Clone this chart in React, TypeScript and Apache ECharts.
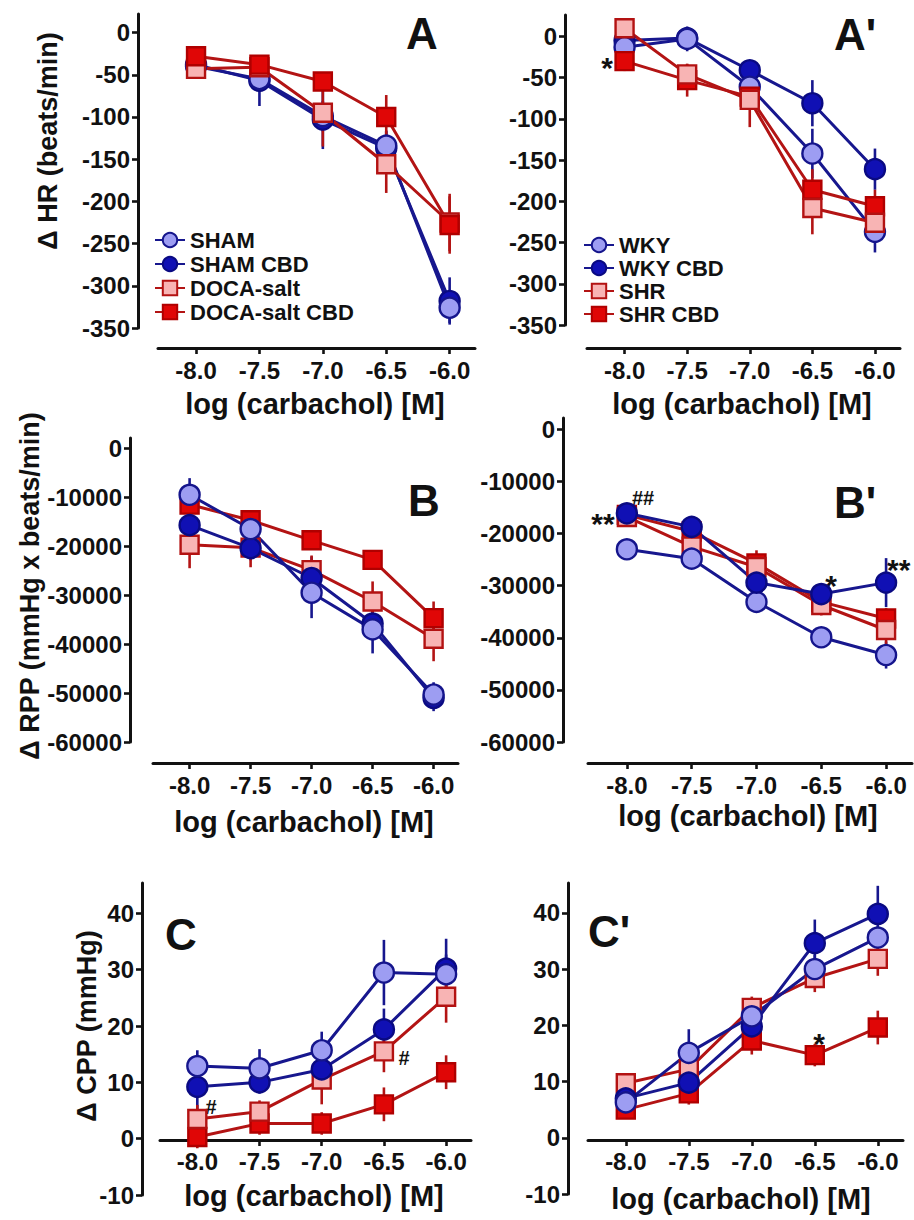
import React, { useEffect, useRef } from "react";
import * as echarts from "echarts";

const FONT = '"Liberation Sans", Arial, Helvetica, sans-serif';
const INK = "#111111";

// x positions (log carbachol [M])
const doses = [-8.0, -7.5, -7.0, -6.5, -6.0];

// y tick values
const hrTicks = [0, -50, -100, -150, -200, -250, -300, -350];
const rppTicks = [0, -10000, -20000, -30000, -40000, -50000, -60000];
const cppTicks = [-10, 0, 10, 20, 30, 40];

// Panel A: Δ HR
const hrSham = [-40, -55, -99, -134, -326];
const hrShamErr = [8, 15, 18, 18, 18];
const hrShamCbd = [-38, -57, -103, -137, -318];
const hrShamCbdErr = [10, 30, 35, 20, 28];
const hrDoca = [-43, -41, -95, -156, -225];
const hrDocaErr = [10, 12, 40, 34, 34];
const hrDocaCbd = [-28, -38, -58, -100, -228];
const hrDocaCbdErr = [10, 10, 10, 26, 34];

// Panel A': Δ HR
const hrWky = [-13, -3, -61, -142, -237];
const hrWkyErr = [8, 15, 15, 30, 25];
const hrWkyCbd = [-5, -2, -41, -81, -161];
const hrWkyCbdErr = [8, 8, 12, 28, 25];
const hrShr = [10, -46, -77, -208, -226];
const hrShrErr = [12, 12, 33, 32, 20];
const hrShrCbd = [-30, -53, -73, -186, -206];
const hrShrCbdErr = [12, 20, 10, 25, 20];

// Panel B: Δ RPP
const rppSham = [-9500, -16500, -29500, -37000, -50300];
const rppShamErr = [3400, 2000, 5200, 4900, 2500];
const rppShamCbd = [-15700, -20400, -26500, -35800, -51000];
const rppShamCbdErr = [2500, 2500, 4400, 3000, 2700];
const rppDoca = [-19700, -20300, -24900, -31300, -38900];
const rppDocaErr = [4800, 4000, 3000, 4100, 4600];
const rppDocaCbd = [-11500, -14700, -18800, -22800, -34700];
const rppDocaCbdErr = [2000, 2000, 1500, 2000, 3400];

// Panel B': Δ RPP
const rppWky = [-23000, -24800, -33100, -39900, -43300];
const rppWkyErr = [1000, 1500, 1500, 1500, 2600];
const rppWkyCbd = [-16100, -18700, -29400, -31600, -29400];
const rppWkyCbdErr = [1000, 1500, 2000, 1500, 4700];
const rppShr = [-16800, -22500, -26400, -33700, -38500];
const rppShrErr = [1500, 2500, 2000, 2000, 3500];
const rppShrCbd = [-16400, -19600, -25700, -33100, -36300];
const rppShrCbdErr = [1000, 1500, 2500, 2000, 2000];

// Panel C: Δ CPP
const cppSham = [12.9, 12.5, 15.7, 29.5, 29.2];
const cppShamErr = [2.8, 3.4, 3.3, 5.8, 3.5];
const cppShamCbd = [9.2, 10.0, 12.3, 19.4, 30.2];
const cppShamCbdErr = [4.8, 2.0, 2.0, 3.7, 5.3];
const cppDoca = [3.5, 4.8, 10.5, 15.5, 25.2];
const cppDocaErr = [2.5, 2.0, 4.4, 3.7, 4.6];
const cppDocaCbd = [0.3, 2.7, 2.7, 6.1, 11.8];
const cppDocaCbdErr = [2.0, 2.0, 2.0, 3.0, 3.0];

// Panel C': Δ CPP
const cppWky = [6.3, 15.1, 21.6, 30.0, 35.6];
const cppWkyErr = [1.5, 4.2, 3.0, 2.5, 2.0];
const cppWkyCbd = [7.0, 9.8, 19.8, 34.6, 39.8];
const cppWkyCbdErr = [1.5, 2.0, 3.5, 4.2, 5.0];
const cppShr = [9.7, 12.2, 23.1, 28.4, 31.8];
const cppShrErr = [1.5, 2.0, 2.0, 2.5, 3.0];
const cppShrCbd = [5.0, 7.9, 17.3, 14.7, 19.6];
const cppShrCbdErr = [1.5, 2.0, 2.5, 2.0, 3.0];

const legendLeft = ["SHAM", "SHAM CBD", "DOCA-salt", "DOCA-salt CBD"];
const legendRight = ["WKY", "WKY CBD", "SHR", "SHR CBD"];

type Sty = { symbol: string; fill: string; border: string; line: string };
const LIGHT_BLUE: Sty = { symbol: "circle", fill: "#9d9df2", border: "#15158c", line: "#17178e" };
const DARK_BLUE: Sty = { symbol: "circle", fill: "#1010b4", border: "#0a0a82", line: "#17178e" };
const PINK: Sty = { symbol: "rect", fill: "#f8b4b4", border: "#b31212", line: "#b31414" };
const RED: Sty = { symbol: "rect", fill: "#e00606", border: "#b00000", line: "#b31414" };

function lineSeries(name: string, gi: number, vals: number[], s: Sty) {
  return {
    type: "line",
    name,
    xAxisIndex: gi,
    yAxisIndex: gi,
    data: doses.map((d, i) => [d, vals[i]]),
    symbol: s.symbol,
    symbolSize: s.symbol === "circle" ? 20 : 18,
    lineStyle: { color: s.line, width: 3 },
    itemStyle: { color: s.fill, borderColor: s.border, borderWidth: 2.4 },
    z: 3,
    silent: true,
  };
}

function errSeries(gi: number, vals: number[], errs: number[], s: Sty) {
  return {
    type: "custom",
    xAxisIndex: gi,
    yAxisIndex: gi,
    data: doses.map((d, i) => [d, vals[i], errs[i]]),
    encode: { x: 0, y: 1 },
    renderItem: (_p: any, api: any) => {
      const x = api.value(0);
      const y = api.value(1);
      const e = api.value(2);
      const a = api.coord([x, y + e]);
      const b = api.coord([x, y - e]);
      return {
        type: "line",
        shape: { x1: a[0], y1: a[1], x2: b[0], y2: b[1] },
        style: { stroke: s.line, lineWidth: 2.6 },
      };
    },
    z: 2,
    silent: true,
  };
}

function xAxisCfg(gi: number, offset: number, margin: number) {
  return {
    gridIndex: gi,
    type: "value",
    min: -8.3,
    max: -5.8,
    offset,
    axisLine: { show: true, onZero: false, lineStyle: { color: INK, width: 3 } },
    axisTick: { show: true, customValues: doses, length: 6, lineStyle: { color: INK, width: 2.6 } },
    axisLabel: {
      customValues: doses,
      formatter: (v: number) => v.toFixed(1),
      fontSize: 24,
      fontWeight: "bold",
      color: INK,
      fontFamily: FONT,
      margin,
    },
    splitLine: { show: false },
  };
}

function yAxisCfg(gi: number, min: number, max: number, ticks: number[], offset: number) {
  return {
    gridIndex: gi,
    type: "value",
    min,
    max,
    offset,
    axisLine: { show: true, onZero: false, lineStyle: { color: INK, width: 3 } },
    axisTick: { show: true, customValues: ticks, length: 6, lineStyle: { color: INK, width: 2.6 } },
    axisLabel: {
      customValues: ticks,
      formatter: (v: number) => String(v),
      fontSize: 24,
      fontWeight: "bold",
      color: INK,
      fontFamily: FONT,
      margin: 8,
    },
    splitLine: { show: false },
  };
}

function txt(text: string, x: number, y: number, fontSize: number, extra: any = {}) {
  return {
    type: "text",
    x,
    y,
    silent: true,
    ...extra,
    style: {
      text,
      fontSize,
      fontWeight: "bold",
      fontFamily: FONT,
      fill: INK,
      textAlign: extra.align || "center",
      textVerticalAlign: "middle",
    },
  };
}

function legendCfg(data: string[], left: number, top: number, gap: number) {
  return {
    data,
    orient: "vertical",
    left,
    top,
    padding: 0,
    itemWidth: 30,
    itemHeight: 18,
    itemGap: gap,
    selectedMode: false,
    textStyle: { fontSize: 22, fontWeight: "bold", color: INK, fontFamily: FONT },
  };
}

export default function App() {
  const ref = useRef<HTMLDivElement>(null);

  useEffect(() => {
    if (!ref.current) return;
    const chart = echarts.init(ref.current, undefined, { renderer: "svg" });

    const grids = [
      { left: 158, top: 14, width: 317, height: 314 },
      { left: 587, top: 15, width: 313, height: 310 },
      { left: 153, top: 438, width: 305, height: 304 },
      { left: 588, top: 418, width: 324, height: 324 },
      { left: 160, top: 883, width: 311, height: 312 },
      { left: 588, top: 883, width: 315, height: 311 },
    ].map((g) => ({ ...g, outerBoundsMode: "none", containLabel: false }));

    const xAxes = [
      xAxisCfg(0, 20, 10),
      xAxisCfg(1, 23, 10),
      xAxisCfg(2, 21, 10),
      xAxisCfg(3, 21, 10),
      xAxisCfg(4, -55, 9),
      xAxisCfg(5, -54, 9),
    ];
    const yAxes = [
      yAxisCfg(0, -350, 22, hrTicks, 20),
      yAxisCfg(1, -350, 26, hrTicks, 22),
      yAxisCfg(2, -60000, 2100, rppTicks, 23),
      yAxisCfg(3, -60000, 2200, rppTicks, 25),
      yAxisCfg(4, -10, 45.4, cppTicks, 18),
      yAxisCfg(5, -10, 45.3, cppTicks, 20),
    ];

    const series: any[] = [
      // A
      errSeries(0, hrSham, hrShamErr, LIGHT_BLUE),
      errSeries(0, hrShamCbd, hrShamCbdErr, DARK_BLUE),
      errSeries(0, hrDoca, hrDocaErr, PINK),
      errSeries(0, hrDocaCbd, hrDocaCbdErr, RED),
      lineSeries("SHAM CBD", 0, hrShamCbd, DARK_BLUE),
      lineSeries("SHAM", 0, hrSham, LIGHT_BLUE),
      lineSeries("DOCA-salt", 0, hrDoca, PINK),
      lineSeries("DOCA-salt CBD", 0, hrDocaCbd, RED),
      // A'
      errSeries(1, hrWky, hrWkyErr, LIGHT_BLUE),
      errSeries(1, hrWkyCbd, hrWkyCbdErr, DARK_BLUE),
      errSeries(1, hrShr, hrShrErr, PINK),
      errSeries(1, hrShrCbd, hrShrCbdErr, RED),
      lineSeries("WKY CBD", 1, hrWkyCbd, DARK_BLUE),
      lineSeries("WKY", 1, hrWky, LIGHT_BLUE),
      lineSeries("SHR CBD", 1, hrShrCbd, RED),
      lineSeries("SHR", 1, hrShr, PINK),
      // B
      errSeries(2, rppSham, rppShamErr, LIGHT_BLUE),
      errSeries(2, rppShamCbd, rppShamCbdErr, DARK_BLUE),
      errSeries(2, rppDoca, rppDocaErr, PINK),
      errSeries(2, rppDocaCbd, rppDocaCbdErr, RED),
      lineSeries("DOCA-salt", 2, rppDoca, PINK),
      lineSeries("DOCA-salt CBD", 2, rppDocaCbd, RED),
      lineSeries("SHAM CBD", 2, rppShamCbd, DARK_BLUE),
      lineSeries("SHAM", 2, rppSham, LIGHT_BLUE),
      // B'
      errSeries(3, rppWky, rppWkyErr, LIGHT_BLUE),
      errSeries(3, rppWkyCbd, rppWkyCbdErr, DARK_BLUE),
      errSeries(3, rppShr, rppShrErr, PINK),
      errSeries(3, rppShrCbd, rppShrCbdErr, RED),
      lineSeries("SHR CBD", 3, rppShrCbd, RED),
      lineSeries("SHR", 3, rppShr, PINK),
      lineSeries("WKY", 3, rppWky, LIGHT_BLUE),
      lineSeries("WKY CBD", 3, rppWkyCbd, DARK_BLUE),
      // C
      errSeries(4, cppSham, cppShamErr, LIGHT_BLUE),
      errSeries(4, cppShamCbd, cppShamCbdErr, DARK_BLUE),
      errSeries(4, cppDoca, cppDocaErr, PINK),
      errSeries(4, cppDocaCbd, cppDocaCbdErr, RED),
      lineSeries("DOCA-salt CBD", 4, cppDocaCbd, RED),
      lineSeries("DOCA-salt", 4, cppDoca, PINK),
      lineSeries("SHAM CBD", 4, cppShamCbd, DARK_BLUE),
      lineSeries("SHAM", 4, cppSham, LIGHT_BLUE),
      // C'
      errSeries(5, cppWky, cppWkyErr, LIGHT_BLUE),
      errSeries(5, cppWkyCbd, cppWkyCbdErr, DARK_BLUE),
      errSeries(5, cppShr, cppShrErr, PINK),
      errSeries(5, cppShrCbd, cppShrCbdErr, RED),
      lineSeries("SHR CBD", 5, cppShrCbd, RED),
      lineSeries("SHR", 5, cppShr, PINK),
      lineSeries("WKY CBD", 5, cppWkyCbd, DARK_BLUE),
      lineSeries("WKY", 5, cppWky, LIGHT_BLUE),
    ];

    const rot = { rotation: Math.PI / 2 };
    const graphic = [
      // panel letters
      txt("A", 422, 33, 44),
      txt("A'", 855, 34, 44),
      txt("B", 424, 500, 44),
      txt("B'", 855, 502, 44),
      txt("C", 181, 934, 44),
      txt("C'", 609, 931, 44),
      // y axis names
      txt("Δ HR (beats/min)", 48, 141, 27, rot),
      txt("Δ RPP (mmHg x beats/min)", 30, 586, 27, rot),
      txt("Δ CPP (mmHg)", 87, 1026, 27, rot),
      // x axis names
      txt("log (carbachol) [M]", 315, 404, 29),
      txt("log (carbachol) [M]", 742, 404, 29),
      txt("log (carbachol) [M]", 304, 822, 29),
      txt("log (carbachol) [M]", 748, 816, 29),
      txt("log (carbachol) [M]", 314, 1196, 29),
      txt("log (carbachol) [M]", 741, 1199, 29),
      // significance marks
      txt("*", 607, 67, 30),
      txt("**", 603, 523, 30),
      txt("##", 643, 498, 20),
      txt("*", 831, 585, 30),
      txt("**", 887, 569, 30, { align: "left" }),
      txt("#", 211, 1107, 20),
      txt("#", 404, 1058, 20),
      txt("*", 819, 1043, 30),
    ];

    chart.setOption({
      animation: false,
      backgroundColor: "#ffffff",
      grid: grids,
      xAxis: xAxes,
      yAxis: yAxes,
      legend: [legendCfg(legendLeft, 154, 229, 2), legendCfg(legendRight, 583, 234, 1)],
      series,
      graphic,
    });

    return () => chart.dispose();
  }, []);

  return (
    <div
      ref={ref}
      style={{ position: "fixed", left: 0, top: 0, width: 914, height: 1220, background: "#fff" }}
    />
  );
}
